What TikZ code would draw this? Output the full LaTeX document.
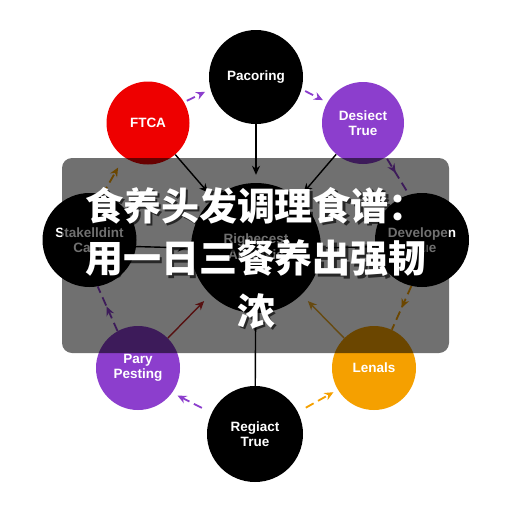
\documentclass[tikz,border=0pt]{standalone}
\usepackage{fontspec}
\newfontfamily\lab{Liberation Sans}
\newfontfamily\cjk{Noto Sans CJK SC}
\usetikzlibrary{arrows.meta,decorations.markings}
\definecolor{cpurple}{RGB}{140,62,205}
\definecolor{corange}{RGB}{245,160,0}
\definecolor{cred}{RGB}{238,0,0}
\definecolor{cdred}{RGB}{200,40,40}
\definecolor{cgold}{RGB}{235,170,40}
\begin{document}
\begin{tikzpicture}[x=1pt,y=-1pt,
  circ/.style={circle,inner sep=0pt,text=white,align=center,font=\lab\bfseries\fontsize{13.5}{15.5}\selectfont},
  tip/.style={-{Stealth[length=9pt,width=8pt]}},
  dsh/.style={line width=1.8pt,dash pattern=on 9pt off 5pt},
  sol/.style={line width=1.4pt},
  midarrow/.style={postaction={decorate},decoration={markings,mark=at position #1 with {\arrow{Stealth[length=9pt,width=8pt]}}}},
  ttl/.style={align=center,inner sep=0pt,font=\cjk\bfseries\fontsize{38}{52.5}\selectfont}
]
\fill[white] (0,0) rectangle (512,512);
\useasboundingbox (0,0) rectangle (512,512);

\node[circ,fill=black,minimum size=94pt] (pac) at (256,77) {Pacoring};
\node[circ,fill=cred,minimum size=83pt] (ftca) at (148,123) {FTCA};
\node[circ,fill=cpurple,minimum size=82pt] (des) at (363,123) {Desiect\\True};
\node[circ,fill=black,minimum size=94pt] (stk) at (89.5,240) {Stakelldint\\Case};
\node[circ,fill=black,minimum size=94pt] (dev) at (422,240) {Developen\\True};
\node[circ,fill=black,minimum size=130pt] (ctr) at (256,248) {Righecest\\Analysis};
\node[circ,fill=cpurple,minimum size=84pt] (pary) at (138,368) {Pary\\Pesting};
\node[circ,fill=corange,minimum size=84pt] (len) at (374,368) {Lenals};
\node[circ,fill=black,minimum size=96pt] (reg) at (255,434) {Regiact\\True};

% dashed cycle
\draw[dsh,cpurple,tip,shorten <=3pt,shorten >=6pt] (ftca.30) -- (pac.195);
\draw[dsh,cpurple,tip,shorten <=4pt,shorten >=5pt] (pac.-15) -- (des.150);
\draw[dsh,cpurple,midarrow=0.42,shorten <=2pt] (des.-56) -- (dev.106);
\draw[dsh,corange,midarrow=0.5] (dev.-103) -- (len.65);
\draw[dsh,corange,tip,shorten <=9pt,shorten >=5pt] (reg.27) -- (len.211);
\draw[dsh,cpurple,tip,shorten <=11pt,shorten >=6pt] (reg.154) -- (pary.-36);
\draw[dsh,cpurple,midarrow=0.55] (pary.119) -- (stk.-80);
\draw[dsh,corange,tip,shorten >=12pt] (stk.74) -- (ftca.235);

% solid spokes
\draw[sol,tip,shorten >=8pt] (pac) -- (ctr);
\draw[sol,tip,shorten >=8pt] (ftca) -- (ctr);
\draw[sol,tip,shorten >=8pt] (des) -- (ctr);
\draw[sol,tip,shorten >=4pt] (stk.-8) -- (ctr.west);
\draw[sol,tip,shorten >=4pt] (dev.188) -- (ctr.east);
\draw[sol,cdred,tip,shorten >=9pt] (pary.45) -- (ctr);
\draw[sol,cgold,tip,shorten >=9pt] (len.135) -- (ctr);
\draw[sol] (ctr) -- (reg);

% overlay
\fill[black,opacity=0.56,rounded corners=10pt] (62,158) rectangle (449,353);

% title
\node[ttl,text=black,text opacity=0.65] (tsh) at (258.5,260.5) {食养头发调理食谱：\\用一日三餐养出强韧\\浓};
\node[ttl,text=white] (title) at (256,258) {食养头发调理食谱：\\用一日三餐养出强韧\\浓};
\end{tikzpicture}
\end{document}
